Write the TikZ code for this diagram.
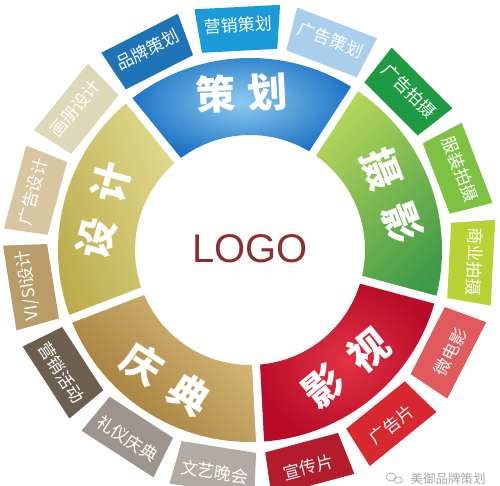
\documentclass[tikz,border=0pt]{standalone}
\usepackage{fontspec}
\newfontfamily\cjk{Noto Sans CJK SC}
\newfontfamily\logofont{Liberation Sans}
\definecolor{cehuaL}{HTML}{8CCBF0}
\definecolor{cehuaD}{HTML}{1B72C4}
\definecolor{sheyL}{HTML}{B4D65A}
\definecolor{sheyD}{HTML}{3F9A48}
\definecolor{yingL}{HTML}{E23344}
\definecolor{yingD}{HTML}{B80C28}
\definecolor{qingL}{HTML}{DCC07E}
\definecolor{qingD}{HTML}{9C7433}
\definecolor{shejiL}{HTML}{E2D98C}
\definecolor{shejiD}{HTML}{B8A94A}
\definecolor{pinpai}{HTML}{1F73B7}
\definecolor{yingxiao}{HTML}{1A9BD7}
\definecolor{ggcehua}{HTML}{A9CFEC}
\definecolor{ggpaishe}{HTML}{1E9A43}
\definecolor{fuzhuang}{HTML}{7DC243}
\definecolor{shangye}{HTML}{B6D234}
\definecolor{weidy}{HTML}{E05A5E}
\definecolor{ggpian}{HTML}{D7282F}
\definecolor{xuanchuan}{HTML}{B31C2B}
\definecolor{wenyi}{HTML}{B2ABA3}
\definecolor{liyi}{HTML}{9D958D}
\definecolor{yxhd}{HTML}{6D5F50}
\definecolor{visi}{HTML}{B89C6A}
\definecolor{ggsheji}{HTML}{D8C6A0}
\definecolor{huace}{HTML}{DCD8B8}
\definecolor{logored}{HTML}{8E2F2F}
\newcommand\ringseg[3]{\shade[#3] (#1:115pt) arc[start angle=#1,end angle=#2,radius=115pt] -- (#2:192pt) arc[start angle=#2,end angle=#1,radius=192pt] -- cycle;}
\newcommand\obox[5]{%
  \fill[#2] ({#1-10}:247pt) -- ({#1+10}:247pt) -- ({#1+10.7}:203pt) -- ({#1-10.7}:203pt) -- cycle;
  \node[outtxt, rotate=#4] (#3) at (#1:225pt) {#5};}
\begin{document}
\begin{tikzpicture}[x=1pt,y=1pt,
  outtxt/.style={font=\cjk\fontsize{17}{17}\selectfont, text=white, inner sep=0pt},
  intxt/.style={font=\cjk\bfseries\fontsize{40}{40}\selectfont, text=white, inner sep=0pt}]
\useasboundingbox (-250,-236) rectangle (250,250);
\fill[white] (-250,-236) rectangle (250,250);
% inner ring
\ringseg{57}{129}{inner color=cehuaL, outer color=cehuaD}
\ringseg{345}{417}{top color=sheyL, bottom color=sheyD, shading angle=45}
\ringseg{273}{345}{inner color=yingL, outer color=yingD}
\ringseg{201}{273}{top color=qingL, bottom color=qingD, shading angle=-45}
\ringseg{129}{201}{top color=shejiL, bottom color=shejiD, shading angle=-70}
\foreach \a in {57,129,201,273,345} \draw[white, line width=8pt] (\a:110pt) -- (\a:197pt);
\node[intxt, rotate=3] (cehua) at (93:157pt) {策\hspace{12pt}划};
\node[intxt, rotate=-69] (sheying) at (21:152pt) {摄\hspace{18pt}影};
\node[intxt, rotate=39] (yingshi) at (-51:152pt) {影\hspace{18pt}视};
\node[intxt, rotate=-33] (qingdian) at (237:154pt) {庆\hspace{16pt}典};
\node[intxt, rotate=75] (sheji) at (165:152pt) {设\hspace{18pt}计};
% outer ring
\obox{117}{pinpai}{b1}{27}{品牌策划}
\obox{93}{yingxiao}{b2}{3}{营销策划}
\obox{69}{ggcehua}{b3}{-21}{广告策划}
\obox{45}{ggpaishe}{b4}{-45}{广告拍摄}
\obox{21}{fuzhuang}{b5}{-69}{服装拍摄}
\obox{-3}{shangye}{b6}{-93}{商业拍摄}
\obox{-27}{weidy}{b7}{63}{微电影}
\obox{-51}{ggpian}{b8}{39}{广告片}
\obox{-75}{xuanchuan}{b9}{15}{宣传片}
\obox{-99}{wenyi}{b10}{-9}{文艺晚会}
\obox{-123}{liyi}{b11}{-33}{礼仪庆典}
\obox{-147}{yxhd}{b12}{-57}{营销活动}
\obox{189}{visi}{b13}{99}{VI/SI设计}
\obox{165}{ggsheji}{b14}{75}{广告设计}
\obox{141}{huace}{b15}{51}{画册设计}
% logo
\node[font=\logofont\fontsize{40}{40}\selectfont, text=logored] (logo) at (0,1) {LOGO};
% watermark
\draw[gray!60, line width=0.8pt] (141,-227) ellipse (5pt and 4pt);
\draw[gray!60, line width=0.8pt] (148,-230) ellipse (4pt and 3.3pt);
\node[font=\cjk\fontsize{12.5}{12.5}\selectfont, text=gray!70] (wm) at (198,-229) {美御品牌策划};
\end{tikzpicture}
\end{document}
